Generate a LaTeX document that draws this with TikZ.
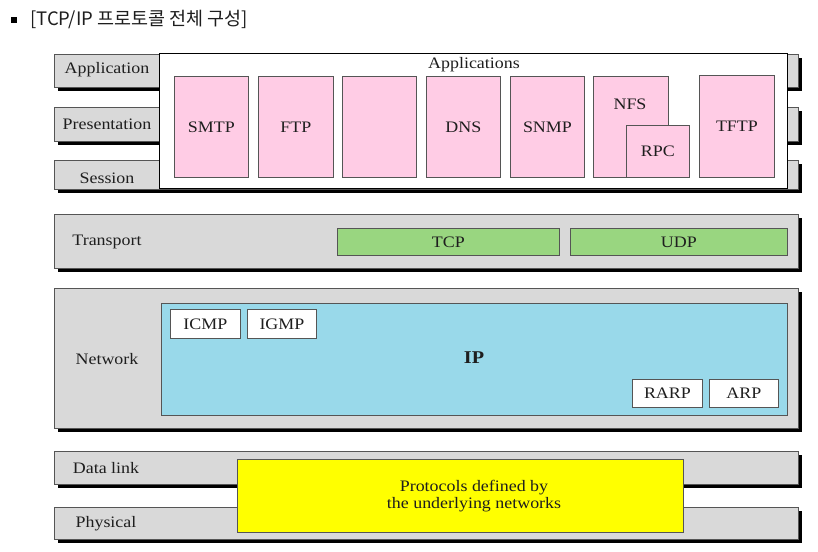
\documentclass[tikz,border=0pt]{standalone}
\usepackage{fontspec}
\setmainfont{Liberation Serif}
\newfontfamily\krfont{Noto Sans CJK KR}
\definecolor{barfill}{RGB}{217,217,217}
\definecolor{pinkfill}{RGB}{255,204,229}
\definecolor{greenfill}{RGB}{153,214,128}
\definecolor{bluefill}{RGB}{153,217,234}
\definecolor{yellowfill}{RGB}{255,255,0}
\definecolor{edgecol}{RGB}{85,85,85}
\definecolor{textcol}{RGB}{30,30,30}
\newcommand{\wt}[1]{\scalebox{1.12}[1]{#1}}
\begin{document}
\begin{tikzpicture}[x=1pt,y=-1pt,
  every node/.style={text=textcol},
  txt/.style={font=\fontsize{16}{16}\selectfont, inner sep=0},
  box/.style={rectangle, anchor=north west, inner sep=0, line width=0.8pt, draw=edgecol, font=\fontsize{16}{16}\selectfont},
  bar/.style={box, fill=barfill},
  shadowfill/.style={fill=black},
  pinkbox/.style={box, fill=pinkfill},
  greenbox/.style={box, fill=greenfill},
  whitebox/.style={box, fill=white},
]
\useasboundingbox (0,0) rectangle (818,551);
% title
\node[fill=black, minimum size=6pt, inner sep=0] (bul) at (14,20) {};
\node[anchor=west, inner sep=0, font=\krfont\fontsize{18.5}{18.5}\selectfont] (title) at (30,20) {[TCP/IP 프로토콜 전체 구성]};
% shadows of the layer bars
\fill[shadowfill] (57.5,57.5) rectangle ++(744,33);
\fill[shadowfill] (57.5,110.5) rectangle ++(744,34);
\fill[shadowfill] (57.5,163.5) rectangle ++(744,29);
\fill[shadowfill] (57.5,217.5) rectangle ++(744,54);
\fill[shadowfill] (57.5,291.5) rectangle ++(744,140);
\fill[shadowfill] (57.5,454.5) rectangle ++(744,33);
\fill[shadowfill] (57.5,510.5) rectangle ++(744,32);
% layer bars
\node[bar, minimum width=744pt, minimum height=33pt] (app) at (54,54) {};
\node[bar, minimum width=744pt, minimum height=34pt] (pres) at (54,107) {};
\node[bar, minimum width=744pt, minimum height=29pt] (sess) at (54,160) {};
\node[bar, minimum width=744pt, minimum height=54pt] (trans) at (54,214) {};
\node[bar, minimum width=744pt, minimum height=140pt] (net) at (54,288) {};
\node[bar, minimum width=744pt, minimum height=33pt] (dl) at (54,451) {};
\node[bar, minimum width=744pt, minimum height=32pt] (phy) at (54,507) {};
% layer labels
\node[txt] (lapp) at (107,70) {\wt{Application}};
\node[txt] (lpres) at (107,124) {\wt{Presentation}};
\node[txt] (lsess) at (107,178) {\wt{Session}};
\node[txt] (ltrans) at (107,242) {\wt{Transport}};
\node[txt] (lnet) at (107,359) {\wt{Network}};
\node[txt] (ldl) at (106,468) {\wt{Data link}};
\node[txt] (lphy) at (106,524) {\wt{Physical}};
% applications
\node[whitebox, draw=black, minimum width=628pt, minimum height=135pt] (apps) at (159,53) {};
\node[txt] (lapps) at (474,65) {\wt{Applications}};
\node[pinkbox, minimum width=74pt, minimum height=101pt] (smtp) at (174,76) {\wt{SMTP}};
\node[pinkbox, minimum width=75pt, minimum height=101pt] (ftp) at (258,76) {\wt{FTP}};
\node[pinkbox, minimum width=74pt, minimum height=101pt] (blank) at (342,76) {};
\node[pinkbox, minimum width=74pt, minimum height=101pt] (dns) at (426,76) {\wt{DNS}};
\node[pinkbox, minimum width=74pt, minimum height=101pt] (snmp) at (510,76) {\wt{SNMP}};
\node[pinkbox, minimum width=75pt, minimum height=101pt] (nfs) at (593,76) {};
\node[txt] (lnfs) at (630,104) {\wt{NFS}};
\node[pinkbox, minimum width=63pt, minimum height=52pt] (rpc) at (626,125) {\wt{RPC}};
\node[pinkbox, minimum width=75pt, minimum height=102pt] (tftp) at (699,75) {\wt{TFTP}};
% transport
\node[greenbox, minimum width=222pt, minimum height=27pt] (tcp) at (337,228) {\wt{TCP}};
\node[greenbox, minimum width=217pt, minimum height=27pt] (udp) at (570,228) {\wt{UDP}};
% network
\node[box, fill=bluefill, minimum width=626pt, minimum height=112pt] (ip) at (161,303) {};
\node[inner sep=0, font=\fontsize{18}{18}\selectfont\bfseries] (lip) at (474,358) {\wt{IP}};
\node[whitebox, minimum width=70pt, minimum height=29pt] (icmp) at (170,309) {\wt{ICMP}};
\node[whitebox, minimum width=69pt, minimum height=29pt] (igmp) at (247,309) {\wt{IGMP}};
\node[whitebox, minimum width=70pt, minimum height=28pt] (rarp) at (632,379) {\wt{RARP}};
\node[whitebox, minimum width=69pt, minimum height=28pt] (arp) at (709,379) {\wt{ARP}};
% data link / physical
\node[box, fill=yellowfill, minimum width=446pt, minimum height=73pt] (under) at (237,459) {};
\node[txt] (lunder) at (474,497) {\wt{\begin{tabular}{@{}c@{}}Protocols defined by\\[0.5pt] the underlying networks\end{tabular}}};
\end{tikzpicture}
\end{document}
